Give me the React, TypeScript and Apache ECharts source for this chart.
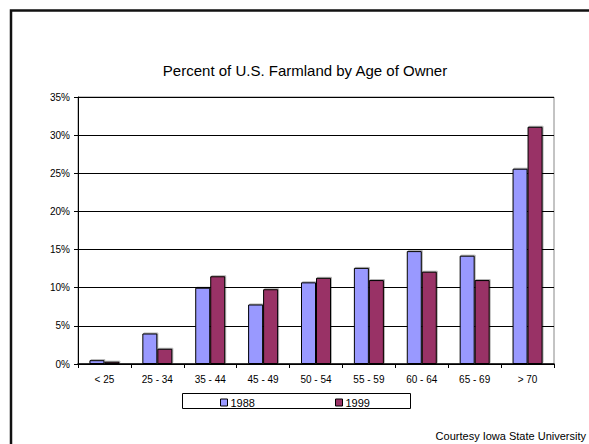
import React, { useEffect, useRef } from "react";
import * as echarts from "echarts";

const categories = ["< 25", "25 - 34", "35 - 44", "45 - 49", "50 - 54", "55 - 59", "60 - 64", "65 - 69", "> 70"];
const values1988 = [0.5, 4.0, 10.0, 7.8, 10.7, 12.6, 14.8, 14.2, 25.6];
const values1999 = [0.3, 2.0, 11.5, 9.8, 11.3, 11.0, 12.1, 11.0, 31.1];
const yTicks = [0, 5, 10, 15, 20, 25, 30, 35];
const seriesNames = ["1988", "1999"];
const titleText = "Percent of U.S. Farmland by Age of Owner";
const creditText = "Courtesy Iowa State University";

const FONT = "'Liberation Sans', Arial, sans-serif";

export default function App() {
  const ref = useRef<HTMLDivElement>(null);
  useEffect(() => {
    if (!ref.current) return;
    const chart = echarts.init(ref.current, undefined, { renderer: "svg" });
    const barStyle = (color: string) => ({
      color,
      borderColor: "#000",
      borderWidth: 1,
      shadowColor: "rgba(0,0,0,0.3)",
      shadowBlur: 0,
      shadowOffsetX: 1,
      shadowOffsetY: -1,
    });
    const legendCommon = {
      top: 394,
      itemWidth: 7,
      itemHeight: 7,
      itemGap: 0,
      icon: "rect",
      padding: [3, 0, 3, 0],
      textStyle: { fontFamily: FONT, fontSize: 11, color: "#000", padding: [1, 0, 0, -2] },
      itemStyle: { borderColor: "#000", borderWidth: 1, shadowBlur: 0, shadowOffsetX: 0, shadowOffsetY: 0 },
    };
    chart.setOption({
      animation: false,
      textStyle: { fontFamily: FONT },
      title: {
        text: titleText,
        left: 300,
        textAlign: "center",
        top: 58,
        textStyle: { fontFamily: FONT, fontSize: 15, fontWeight: "normal", color: "#000" },
      },
      legend: [
        { ...legendCommon, data: [seriesNames[0]], left: 220 },
        { ...legendCommon, data: [seriesNames[1]], left: 335 },
      ],
      grid: {
        left: 78,
        right: 35,
        top: 97,
        bottom: 80,
        show: true,
        borderColor: "#888",
        borderWidth: 1,
        backgroundColor: "transparent",
      },
      xAxis: {
        type: "category",
        data: categories,
        axisLine: { lineStyle: { color: "#000", width: 1.5 } },
        axisTick: { show: true, length: 4, lineStyle: { color: "#000" }, alignWithLabel: false },
        axisLabel: { fontFamily: FONT, fontSize: 10, color: "#000", margin: 10 },
      },
      yAxis: {
        type: "value",
        min: 0,
        max: 35,
        interval: 5,
        axisLine: { show: true, lineStyle: { color: "#000", width: 1 } },
        axisTick: { show: true, length: 4, lineStyle: { color: "#000" } },
        splitLine: { show: true, lineStyle: { color: "#000", width: 1 } },
        axisLabel: {
          fontFamily: FONT,
          fontSize: 10,
          color: "#000",
          margin: 8,
          formatter: (v: number) => (yTicks.includes(v) ? v + "%" : ""),
        },
      },
      series: [
        {
          name: seriesNames[0],
          type: "bar",
          data: values1988,
          barWidth: 15,
          barGap: "0%",
          itemStyle: barStyle("#9999FF"),
        },
        {
          name: seriesNames[1],
          type: "bar",
          data: values1999,
          barWidth: 15,
          barGap: "0%",
          itemStyle: barStyle("#993366"),
        },
      ],
      graphic: [
        {
          type: "polyline",
          shape: { points: [[11, 460], [11, 10.5], [600, 10.5]] },
          style: { stroke: "#111", lineWidth: 2.5, fill: null },
          silent: true,
        },
        {
          type: "rect",
          shape: { x: 182.5, y: 393.5, width: 228, height: 15 },
          style: { stroke: "#000", lineWidth: 1, fill: "transparent" },
          silent: true,
          z: -1,
        },
        {
          type: "text",
          x: 586,
          y: 430,
          style: { text: creditText, fontFamily: FONT, fontSize: 11, fill: "#000", align: "right", verticalAlign: "top" },
          silent: true,
        },
      ],
    });
    return () => chart.dispose();
  }, []);
  return (
    <div
      ref={ref}
      style={{ width: 589, height: 444, position: "absolute", left: 0, top: 0, background: "#fff" }}
    />
  );
}
